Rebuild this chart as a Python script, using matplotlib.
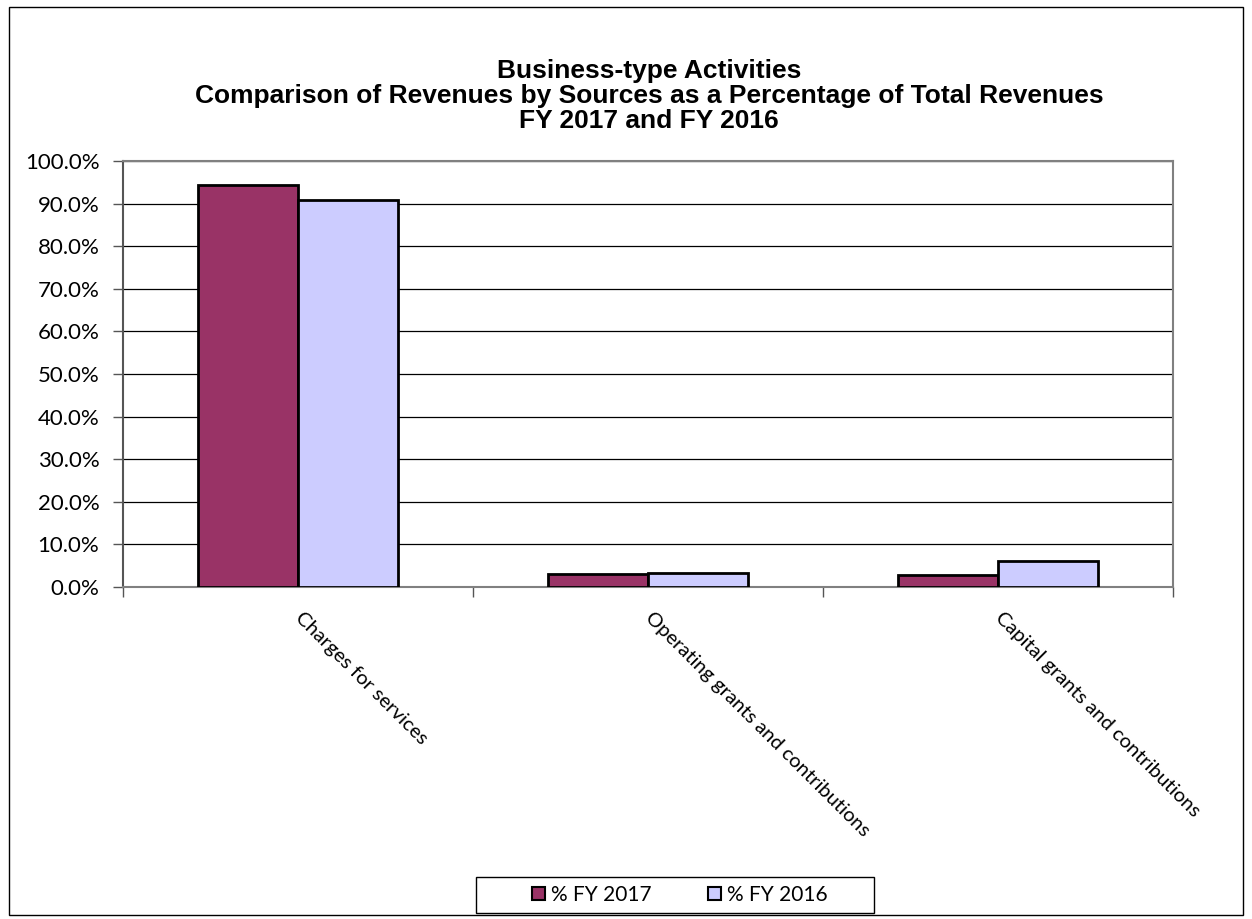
import numpy as np
import matplotlib
matplotlib.use("Agg")
import matplotlib.pyplot as plt
from matplotlib.patches import Patch, Rectangle
from matplotlib.ticker import FuncFormatter, MultipleLocator

# Revenue shares by source, in percent of total revenues
categories = ["Charges for services", "Operating grants and contributions",
              "Capital grants and contributions"]
fy2017 = [94.4, 3.1, 2.8]
fy2016 = [90.8, 3.3, 6.1]
series_names = ["% FY 2017", "% FY 2016"]
colors = ["#993366", "#CCCCFF"]

title_lines = ["Business-type Activities",
               "Comparison of Revenues by Sources as a Percentage of Total Revenues",
               "FY 2017 and FY 2016"]

label_font = "Lato"

fig = plt.figure(figsize=(12.52, 9.19), dpi=100)
ax = fig.add_axes([123 / 1252, 1 - 587 / 919, 1050 / 1252, 426 / 919])

x = np.arange(len(categories))
w = 100 / 350
ax.bar(x - w / 2, fy2017, width=w, color=colors[0], edgecolor="black", linewidth=2, zorder=3)
ax.bar(x + w / 2, fy2016, width=w, color=colors[1], edgecolor="black", linewidth=2, zorder=3)

ax.set_xlim(-0.5, len(categories) - 0.5)
ax.set_ylim(0, 100)
ax.yaxis.set_major_locator(MultipleLocator(10))
ax.yaxis.set_major_formatter(FuncFormatter(lambda v, p: f"{v:.1f}%"))
ax.grid(axis="y", color="black", linewidth=0.9, zorder=0)

# category boundary ticks on the x axis
ax.set_xticks(np.arange(len(categories) + 1) - 0.5)
ax.set_xticklabels([])
ax.tick_params(axis="x", length=7, width=1, color="#555555", direction="out")
ax.tick_params(axis="y", length=7, width=1, color="#555555", direction="out",
               labelsize=16, pad=10)
for lbl in ax.get_yticklabels():
    lbl.set_fontfamily(label_font)

for s in ax.spines.values():
    s.set_color("#808080")
    s.set_linewidth(1.5)
ax.spines["left"].set_color("#555555")

# rotated category labels hanging from each group centre
for xi, name in zip(x, categories):
    ax.annotate(name, xy=(xi, 0), xycoords=("data", "axes fraction"),
                xytext=(0, -20), textcoords="offset points",
                rotation=-45, rotation_mode="anchor", ha="left", va="center",
                fontsize=14.5, fontfamily=label_font)

for i, line in enumerate(title_lines):
    fig.text(649 / 1252, 1 - (71 + 25 * i) / 919, line, ha="center", va="center",
             fontsize=19, fontweight="bold", fontfamily="Liberation Sans")

# legend entries, boxed separately so the frame can be wider than the entries
handles = [Patch(facecolor=c, edgecolor="black", linewidth=1.5) for c in colors]
fig.legend(handles, series_names, loc="center", bbox_to_anchor=(680 / 1252, 1 - 895 / 919),
           ncol=2, frameon=False, prop={"family": label_font, "size": 15},
           handlelength=0.6, handleheight=0.6, handletextpad=0.3,
           columnspacing=2.7, borderpad=0, borderaxespad=0)
fig.patches.append(Rectangle((476 / 1252, 1 - 913 / 919), 398 / 1252, 36 / 919,
                             transform=fig.transFigure, fill=False,
                             edgecolor="black", linewidth=1))

# outer chart border
fig.patches.append(Rectangle((9 / 1252, 4 / 919), 1234 / 1252, 908 / 919,
                             transform=fig.transFigure, fill=False,
                             edgecolor="black", linewidth=1))

fig.savefig("out.png", dpi=100)
